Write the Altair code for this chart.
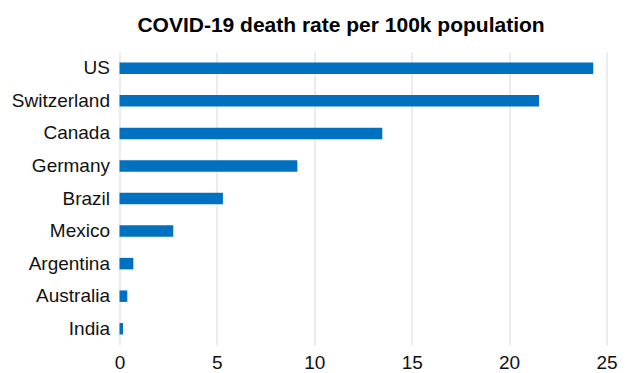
import altair as alt
import pandas as pd

countries = ["US", "Switzerland", "Canada", "Germany", "Brazil", "Mexico", "Argentina", "Australia", "India"]
death_rates = [24.32, 21.54, 13.49, 9.13, 5.31, 2.76, 0.71, 0.40, 0.18]
x_ticks = [0, 5, 10, 15, 20, 25]

df = pd.DataFrame({"country": countries, "rate": death_rates})

FONT = "Liberation Sans"

chart = (
    alt.Chart(df)
    .mark_bar(size=11.5, color="#0070C0")
    .encode(
        x=alt.X(
            "rate:Q",
            scale=alt.Scale(domain=[0, 25], nice=False),
            axis=alt.Axis(
                values=x_ticks,
                title=None,
                grid=True,
                gridColor="#d9d9d9",
                gridWidth=1,
                domain=False,
                ticks=False,
                labelFlush=False,
                labelPadding=8,
                labelFontSize=19,
                labelFont=FONT,
                labelColor="#111111",
            ),
        ),
        y=alt.Y(
            "country:N",
            sort=countries,
            scale=alt.Scale(paddingInner=0, paddingOuter=0),
            axis=alt.Axis(
                title=None,
                domain=False,
                ticks=False,
                grid=False,
                labelPadding=10,
                labelFontSize=19,
                labelFont=FONT,
                labelColor="#111111",
            ),
        ),
    )
    .properties(
        width=487,
        height=293,
        padding={"left": 119.5, "top": 52, "right": 22, "bottom": 28},
        autosize=alt.AutoSizeParams(type="none"),
        title=alt.TitleParams(
            "COVID-19 death rate per 100k population",
            font=FONT,
            fontSize=21,
            fontWeight="bold",
            color="#000000",
            anchor="middle",
            dx=-22,
            offset=16,
        ),
    )
    .configure_view(stroke=None)
)

chart.save("out.html", embed_options={"renderer": "svg", "actions": False})
